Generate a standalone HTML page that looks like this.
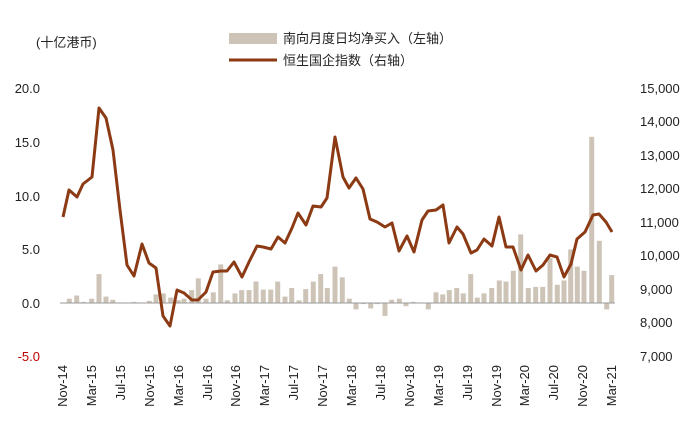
<!DOCTYPE html><html><head><meta charset="utf-8"><style>body{margin:0;background:#fff}svg{display:block}text{font-family:"Liberation Sans","Noto Sans CJK SC",sans-serif;font-size:13px;fill:#222}</style></head><body>
<svg width="690" height="436" xmlns="http://www.w3.org/2000/svg">
<text x="36" y="47">(十亿港币)</text>
<rect x="229" y="33" width="48" height="11" fill="#cdc4b7"/>
<text x="283" y="43">南向月度日均净买入（左轴）</text>
<line x1="229" y1="60" x2="277" y2="60" stroke="#8b3a14" stroke-width="3"/>
<text x="283" y="65">恒生国企指数（右轴）</text>
<g text-anchor="end">
<text x="40" y="93">20.0</text><text x="40" y="147">15.0</text><text x="40" y="201">10.0</text><text x="40" y="254">5.0</text><text x="40" y="308">0.0</text><text x="40" y="361" style="fill:#c00000">-5.0</text>
</g>
<g text-anchor="start">
<text x="640" y="93">15,000</text><text x="640" y="126">14,000</text><text x="640" y="160">13,000</text><text x="640" y="193">12,000</text><text x="640" y="227">11,000</text><text x="640" y="260">10,000</text><text x="640" y="294">9,000</text><text x="640" y="327">8,000</text><text x="640" y="361">7,000</text>
</g>
<g fill="#cdc4b7">
<rect x="66.8" y="298.7" width="5" height="4.3"/><rect x="74.2" y="295.5" width="5" height="7.5"/><rect x="80.8" y="301.9" width="5" height="1.1"/><rect x="89.2" y="298.7" width="5" height="4.3"/><rect x="96.5" y="274.1" width="5" height="28.9"/><rect x="103.5" y="296.6" width="5" height="6.4"/><rect x="110.2" y="299.8" width="5" height="3.2"/><rect x="131.5" y="301.9" width="5" height="1.1"/><rect x="146.8" y="300.9" width="5" height="2.1"/><rect x="153.5" y="294.4" width="5" height="8.6"/><rect x="160.8" y="293.4" width="5" height="9.6"/><rect x="168.2" y="297.6" width="5" height="5.4"/><rect x="175.8" y="300.3" width="5" height="2.7"/><rect x="181.5" y="298.7" width="5" height="4.3"/><rect x="189.2" y="290.1" width="5" height="12.9"/><rect x="195.8" y="278.3" width="5" height="24.7"/><rect x="203.5" y="298.7" width="5" height="4.3"/><rect x="210.8" y="292.3" width="5" height="10.7"/><rect x="218.2" y="264.4" width="5" height="38.6"/><rect x="224.8" y="300.3" width="5" height="2.7"/><rect x="232.5" y="293.4" width="5" height="9.6"/><rect x="239.2" y="290.1" width="5" height="12.9"/><rect x="246.5" y="290.1" width="5" height="12.9"/><rect x="253.5" y="281.6" width="5" height="21.4"/><rect x="260.8" y="289.6" width="5" height="13.4"/><rect x="268.2" y="289.6" width="5" height="13.4"/><rect x="275.2" y="281.6" width="5" height="21.4"/><rect x="282.5" y="296.6" width="5" height="6.4"/><rect x="289.2" y="288" width="5" height="15"/><rect x="296.5" y="300.3" width="5" height="2.7"/><rect x="303.2" y="289.1" width="5" height="13.9"/><rect x="310.8" y="281.6" width="5" height="21.4"/><rect x="318.2" y="274.1" width="5" height="28.9"/><rect x="324.8" y="288" width="5" height="15"/><rect x="332.5" y="266.6" width="5" height="36.4"/><rect x="339.8" y="277.3" width="5" height="25.7"/><rect x="346.8" y="298.7" width="5" height="4.3"/>
<rect x="353.5" y="303" width="5" height="6.4"/><rect x="360.8" y="303" width="5" height="1.1"/><rect x="368.2" y="303" width="5" height="5.4"/><rect x="374.8" y="303" width="5" height="1.1"/><rect x="382.5" y="303" width="5" height="12.9"/><rect x="389.2" y="299.8" width="5" height="3.2"/><rect x="396.8" y="298.7" width="5" height="4.3"/><rect x="403.5" y="303" width="5" height="3.2"/><rect x="410.8" y="301.9" width="5" height="1.1"/><rect x="425.8" y="303" width="5" height="6.4"/><rect x="433.5" y="292.3" width="5" height="10.7"/><rect x="440.2" y="294.4" width="5" height="8.6"/><rect x="446.8" y="290.1" width="5" height="12.9"/><rect x="454.2" y="288" width="5" height="15"/><rect x="460.8" y="293.4" width="5" height="9.6"/><rect x="468.2" y="274.1" width="5" height="28.9"/><rect x="474.8" y="297.6" width="5" height="5.4"/><rect x="481.5" y="293.4" width="5" height="9.6"/><rect x="489.2" y="288" width="5" height="15"/><rect x="496.8" y="280.5" width="5" height="22.5"/><rect x="503.5" y="281.6" width="5" height="21.4"/><rect x="510.8" y="270.8" width="5" height="32.2"/><rect x="518.2" y="234.4" width="5" height="68.6"/><rect x="525.8" y="288" width="5" height="15"/><rect x="533.2" y="286.9" width="5" height="16.1"/><rect x="540.2" y="286.9" width="5" height="16.1"/><rect x="547.5" y="258" width="5" height="45"/><rect x="554.8" y="284.8" width="5" height="18.2"/><rect x="561.5" y="280.5" width="5" height="22.5"/><rect x="568.2" y="249.4" width="5" height="53.6"/><rect x="574.8" y="266.6" width="5" height="36.4"/><rect x="581.5" y="270.8" width="5" height="32.2"/><rect x="589.2" y="136.8" width="5" height="166.2"/><rect x="596.8" y="240.8" width="5" height="62.2"/><rect x="604.2" y="303" width="5" height="6.4"/><rect x="609.2" y="275.1" width="5" height="27.9"/>
</g>
<line x1="60" y1="303" x2="615" y2="303" stroke="#999" stroke-width="1"/>
<polyline fill="none" stroke="#8b3a14" stroke-width="3" stroke-linejoin="round" points="63,217 69,190 77,197 83,184 92,177 99,108 106,118 113,150 120,210 127,265 134,276 142,244 149,263 156,268 163,316 170,326 177,290 184,293 192,300 198,300 206,292 213,272 221,271 227,271 234,262 242,277 249,262 257,246 263,247 271,249 278,237 285,243 292,228 298,213 306,225 313,206 321,207 327,198 335,137 343,177 349,188 356,178 363,189 370,219 377,222 385,227 392,223 399,251 407,236 414,252 422,220 428,211 436,210 443,205 449,243 457,227 463,234 471,253 477,250 484,239 492,246 499,217 506,247 513,247 521,270 528,255 536,271 543,265 550,255 557,257 564,277 571,264 577,239 585,232 593,215 599,214 606,222 612,232"/>
<g text-anchor="end">
<text transform="translate(67,365) rotate(-90)">Nov-14</text>
<text transform="translate(96,365) rotate(-90)">Mar-15</text>
<text transform="translate(125,365) rotate(-90)">Jul-15</text>
<text transform="translate(154,365) rotate(-90)">Nov-15</text>
<text transform="translate(183,365) rotate(-90)">Mar-16</text>
<text transform="translate(212,365) rotate(-90)">Jul-16</text>
<text transform="translate(240,365) rotate(-90)">Nov-16</text>
<text transform="translate(269,365) rotate(-90)">Mar-17</text>
<text transform="translate(298,365) rotate(-90)">Jul-17</text>
<text transform="translate(327,365) rotate(-90)">Nov-17</text>
<text transform="translate(356,365) rotate(-90)">Mar-18</text>
<text transform="translate(385,365) rotate(-90)">Jul-18</text>
<text transform="translate(414,365) rotate(-90)">Nov-18</text>
<text transform="translate(443,365) rotate(-90)">Mar-19</text>
<text transform="translate(472,365) rotate(-90)">Jul-19</text>
<text transform="translate(501,365) rotate(-90)">Nov-19</text>
<text transform="translate(529,365) rotate(-90)">Mar-20</text>
<text transform="translate(558,365) rotate(-90)">Jul-20</text>
<text transform="translate(587,365) rotate(-90)">Nov-20</text>
<text transform="translate(616,365) rotate(-90)">Mar-21</text>
</g>
</svg></body></html>
